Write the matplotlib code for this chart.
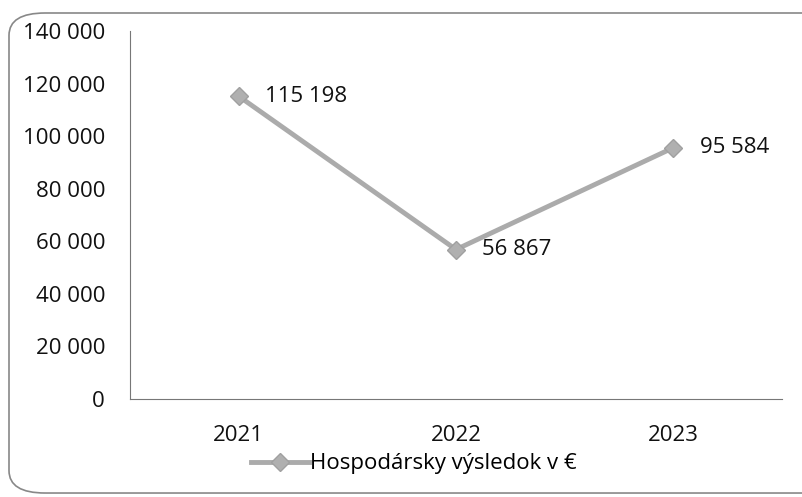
import matplotlib.pyplot as plt
from matplotlib.patches import FancyBboxPatch

# Hospodársky výsledok podľa rokov
roky = ['2021', '2022', '2023']
vysledok = [115198, 56867, 95584]
y_ticks = [0, 20000, 40000, 60000, 80000, 100000, 120000, 140000]


def fmt(v):
    return f'{v:,}'.replace(',', ' ')


plt.rcParams['font.family'] = ['Open Sans', 'DejaVu Sans']
FS = 16

fig = plt.figure(figsize=(8.03, 4.97), dpi=100)
ax = fig.add_axes([130 / 803, 1 - 399 / 497, 652 / 803, 368 / 497])

# vonkajší rámik grafu
frame = FancyBboxPatch((9 / 803, 0.008), 1.2, 1 - 13 / 497 - 0.008,
                       boxstyle='round,pad=0,rounding_size=0.045',
                       transform=fig.transFigure, fill=False,
                       edgecolor='#888888', linewidth=1.2)
fig.patches.append(frame)

x = range(len(roky))
ax.plot(x, vysledok, color='#ababab', linewidth=3.5, marker='D', markersize=9,
        markerfacecolor='#b0b0b0', markeredgecolor='#a0a0a0',
        label='Hospodársky výsledok v €')

for xi, v in zip(x, vysledok):
    ax.annotate(fmt(v), (xi, v), xytext=(19, 0), textcoords='offset points',
                va='center', ha='left', fontsize=FS, color='#111111')

ax.set_xlim(-0.5, 2.5)
ax.set_ylim(0, 140000)
ax.set_xticks(list(x))
ax.set_xticklabels(roky)
ax.set_yticks(y_ticks)
ax.set_yticklabels([fmt(t) for t in y_ticks])
ax.tick_params(length=0, labelsize=FS, colors='#111111')
ax.tick_params(axis='y', pad=18)
ax.tick_params(axis='x', pad=19)

for s in ['top', 'right']:
    ax.spines[s].set_visible(False)
ax.spines['left'].set_color('#777777')
ax.spines['bottom'].set_color('#777777')

leg = fig.legend(loc='center', bbox_to_anchor=(414 / 803, 1 - 464 / 497),
                 frameon=False, fontsize=FS, handlelength=2.6,
                 handletextpad=0.05)

fig.savefig('out.png', dpi=100)
